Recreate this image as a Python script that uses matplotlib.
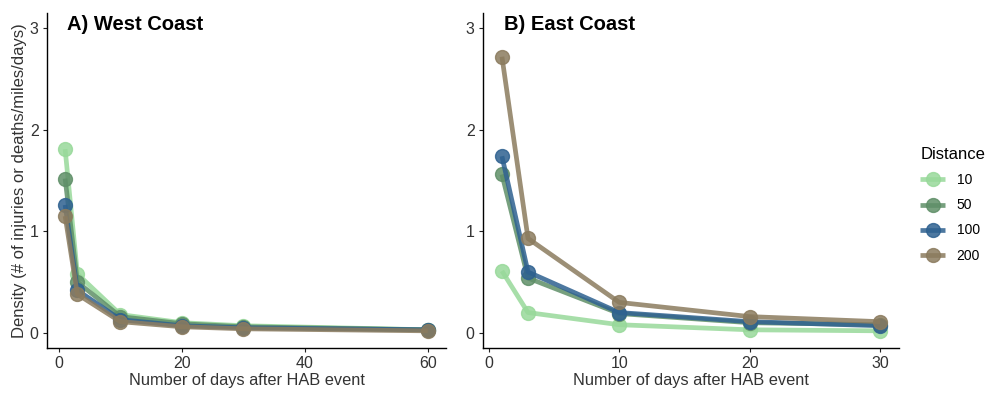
import matplotlib
matplotlib.use("Agg")
import matplotlib.pyplot as plt

plt.rcParams['font.family'] = ['Liberation Sans', 'DejaVu Sans']

distances = ["10", "50", "100", "200"]
colors = ["#98d99a", "#5f8f68", "#2e6190", "#8b7b5e"]

west_days = [1, 3, 10, 20, 30, 60]
west_vals = {
    "10": [1.81, 0.58, 0.18, 0.10, 0.07, 0.03],
    "50": [1.52, 0.50, 0.16, 0.09, 0.06, 0.03],
    "100": [1.26, 0.42, 0.13, 0.07, 0.05, 0.03],
    "200": [1.15, 0.38, 0.11, 0.06, 0.04, 0.02],
}

east_days = [1, 3, 10, 20, 30]
east_vals = {
    "10": [0.61, 0.20, 0.08, 0.03, 0.02],
    "50": [1.56, 0.54, 0.19, 0.10, 0.08],
    "100": [1.74, 0.60, 0.20, 0.11, 0.07],
    "200": [2.72, 0.93, 0.30, 0.16, 0.11],
}

fig = plt.figure(figsize=(9.89, 3.96), dpi=100)
ax1 = fig.add_axes([0.0475, 0.121, 0.4034, 0.846])
ax2 = fig.add_axes([0.4884, 0.121, 0.4206, 0.846])


def draw(ax, days, vals, xticks, title):
    handles = []
    for d, c in zip(distances, colors):
        h, = ax.plot(days, vals[d], color=c, lw=3.4, alpha=0.85,
                     marker='o', markersize=10, solid_capstyle='butt')
        handles.append(h)
    span = days[-1] - days[0]
    ax.set_xlim(days[0] - 0.05 * span, days[-1] + 0.05 * span)
    ax.set_ylim(-0.15, 3.15)
    ax.set_xticks(xticks)
    ax.set_yticks([0, 1, 2, 3])
    for s in ['top', 'right']:
        ax.spines[s].set_visible(False)
    for s in ['left', 'bottom']:
        ax.spines[s].set_linewidth(1.0)
    ax.tick_params(length=3, width=0.8, labelsize=11.5, colors='#222222',
                   labelcolor='#333333', pad=3)
    ax.set_xlabel("Number of days after HAB event", fontsize=11.8, color='#333333', labelpad=1)
    ax.text(0.05, 0.965, title, transform=ax.transAxes, fontsize=14.5,
            fontweight='bold', va='center', ha='left')
    return handles


draw(ax1, west_days, west_vals, [0, 20, 40, 60], "A) West Coast")
handles = draw(ax2, east_days, east_vals, [0, 10, 20, 30], "B) East Coast")
ax1.set_ylabel("Density (# of injuries or deaths/miles/days)", fontsize=12,
               color='#333333', labelpad=2)

leg = fig.legend(handles, distances, title="Distance", loc='upper left',
                 bbox_to_anchor=(0.918, 0.66), frameon=False, fontsize=10,
                 title_fontsize=12, handlelength=1.8, handletextpad=0.8,
                 labelspacing=0.8)
leg._legend_box.align = "left"

fig.savefig("out.png", dpi=100)
